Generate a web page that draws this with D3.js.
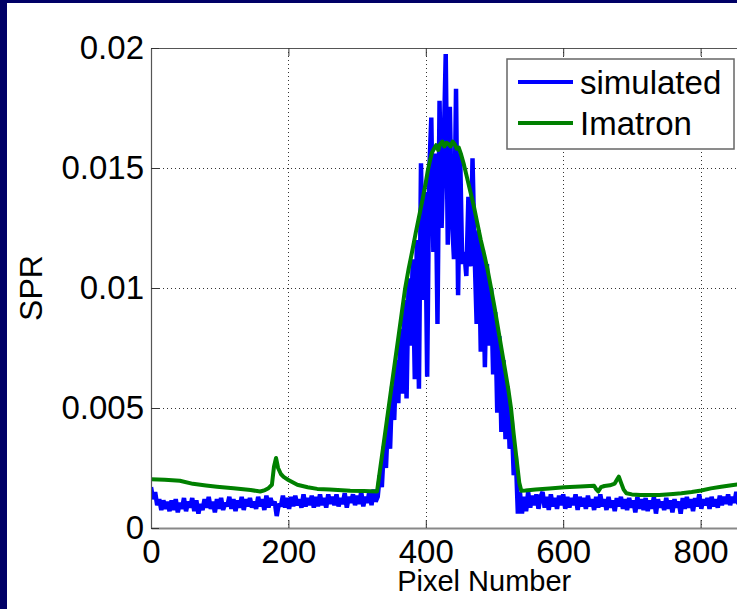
<!DOCTYPE html>
<html><head><meta charset="utf-8">
<script src="https://cdn.jsdelivr.net/npm/d3@7/dist/d3.min.js"></script>
<style>
body{margin:0;background:#fff}
svg{display:block}
text{font-family:"Liberation Sans",Arial,Helvetica,sans-serif;fill:#000}
</style>
</head><body>
<svg id="c" width="737" height="609"></svg>
<script>
// ---------------- data ----------------
const xTicks = [0, 200, 400, 600, 800];
const yTicks = [0, 0.005, 0.01, 0.015, 0.02];
const yTickLabels = ["0", "0.005", "0.01", "0.015", "0.02"];
const seriesNames = ["simulated", "Imatron"];
const xLabel = "Pixel Number";
const yLabel = "SPR";

// simulated SPR (x 1e-5), one value every 3 pixel numbers starting at 0
const simStep = 3;
const simulated = [
  170,120,150,95,120,75,115,80,110,70,
  115,75,120,65,105,80,125,70,110,85,
  125,70,115,60,100,75,120,85,130,80,
  110,65,120,80,125,75,105,90,130,80,
  120,70,115,85,130,75,120,90,125,85,
  110,80,130,90,120,75,135,85,125,95,
  110,50,100,90,135,85,125,80,130,90,
  135,95,120,85,140,90,125,95,135,85,
  130,90,140,95,125,85,140,100,130,95,
  140,90,125,100,145,85,130,105,140,95,
  135,100,150,90,130,105,155,95,160,110,
  130,220,170,340,250,460,330,590,450,700,
  520,830,560,950,540,1040,760,1120,620,1200,
  580,1520,950,1400,630,1480,1710,1150,1560,850,
  1780,1250,1580,1975,1180,1755,1300,1120,1830,970,
  1560,1100,1150,1050,1380,1090,1540,1150,850,1240,
  735,1160,670,1100,760,1000,640,900,480,800,
  400,700,370,590,330,460,220,300,60,150,
  60,130,70,150,85,135,95,140,80,130,
  150,85,130,75,140,90,125,80,135,95,
  140,80,130,85,125,95,140,75,130,90,
  125,80,135,90,120,75,130,85,140,90,
  120,75,130,85,115,70,125,90,130,80,
  120,75,125,85,115,65,130,80,120,75,
  125,70,115,80,130,60,120,85,110,75,
  125,80,115,65,120,85,110,60,125,80,
  130,85,120,70,125,90,140,80,120,95,
  125,80,130,90,120,85,135,95,130,100,
  140,95,130,105,150,100,140,150
];

// Imatron SPR (x 1e-5)
const imatronX = [0,20,42,61,80,96,120,145,159,166,171,176,179,182,185,189,193,200,213,228,242,260,290,310,329,
  333,337,341,345,350,355,360,365,370,375,380,385,390,395,400,403,406,409,412,415,418,421,424,427,430,433,436,439,442,445,448,
  451,455,460,465,470,475,480,485,490,495,500,505,510,515,520,524,528,532,536,539,
  545,560,580,602,625,645,648,651,655,660,668,675,679,681,684,688,692,700,712,724,740,760,772,787,801,815,830,845,856];
const imatronY = [203,201,197,184,177,172,166,158,152,158,166,180,255,292,250,225,213,200,180,170,163,160,155,154,152,
  235,318,400,483,587,690,793,897,1000,1080,1150,1225,1295,1365,1440,1490,1530,1565,1580,1595,1575,1600,1610,1590,1605,1600,1590,1610,1600,1580,1585,
  1560,1520,1460,1400,1340,1270,1200,1140,1075,1000,920,835,750,665,580,500,390,290,190,155,
  156,160,165,170,173,176,162,152,170,175,178,185,205,214,190,160,145,140,138,137,138,142,145,150,156,165,172,178,183];

// ---------------- drawing ----------------
const svg = d3.select("#c");
const scale = 1e-5;
const L = 151, T = 48, B = 528;
const xMax = 970;
const x = d3.scaleLinear().domain([0, xMax]).range([L, L + 0.687 * xMax]);
const R = x(xMax);
const y = d3.scaleLinear().domain([0, 0.02]).range([B, T]);

// frame
svg.append("rect").attr("width", 737).attr("height", 609).attr("fill", "#000066");
svg.append("rect").attr("x", 7).attr("y", 3).attr("width", 730).attr("height", 606).attr("fill", "#fff");

// grid
const grid = svg.append("g").attr("stroke", "#333").attr("stroke-width", 1).attr("stroke-dasharray", "1,3");
grid.selectAll("line.v").data(xTicks.filter(d => d > 0)).join("line")
  .attr("x1", d => Math.round(x(d)) + 0.5).attr("x2", d => Math.round(x(d)) + 0.5)
  .attr("y1", T).attr("y2", B);
grid.selectAll("line.h").data(yTicks.filter(d => d > 0 && d < 0.02)).join("line")
  .attr("y1", d => Math.round(y(d)) + 0.5).attr("y2", d => Math.round(y(d)) + 0.5)
  .attr("x1", L).attr("x2", R);

// data
svg.append("defs").append("clipPath").attr("id", "clip")
  .append("rect").attr("x", L).attr("y", T).attr("width", R - L).attr("height", B - T);
const line = d3.line().x(d => x(d[0])).y(d => y(d[1]));
const simData = simulated.map((v, i) => [i * simStep, v * scale]);
const imaData = imatronX.map((v, i) => [v, imatronY[i] * scale]);
const dg = svg.append("g").attr("clip-path", "url(#clip)");
dg.append("path").datum(simData).attr("d", line).attr("fill", "none")
  .attr("stroke", "#0000ff").attr("stroke-width", 4.5).attr("stroke-linejoin", "miter").attr("stroke-miterlimit", 2);
dg.append("path").datum(imaData).attr("d", line).attr("fill", "none")
  .attr("stroke", "#008000").attr("stroke-width", 4).attr("stroke-linejoin", "round");

// axes
const fs = 33;
const gx = svg.append("g").attr("transform", `translate(0,${B})`)
  .call(d3.axisBottom(x).tickValues(xTicks).tickFormat(d3.format("d")).tickSizeInner(-8).tickSizeOuter(0).tickPadding(12));
const gxt = svg.append("g").attr("transform", `translate(0,${T})`)
  .call(d3.axisTop(x).tickValues(xTicks).tickFormat("").tickSizeInner(-8).tickSizeOuter(0));
const gy = svg.append("g").attr("transform", `translate(${L},0)`)
  .call(d3.axisLeft(y).tickValues(yTicks).tickFormat((d, i) => yTickLabels[i]).tickSizeInner(-8).tickSizeOuter(0).tickPadding(7));
[gx, gxt, gy].forEach(g => {
  g.selectAll("text").attr("font-size", fs).attr("font-family", '"Liberation Sans",Arial,sans-serif').attr("fill", "#000");
  g.selectAll(".tick line").attr("stroke", "#333");
  g.select(".domain").attr("stroke", "#555").attr("stroke-width", 1.2);
});
gx.select(".domain").attr("stroke", "#888").attr("stroke-width", 2);

// axis labels
svg.append("text").attr("x", (L + R) / 2).attr("y", 591).attr("text-anchor", "middle")
  .attr("font-size", 29).text(xLabel);
svg.append("text").attr("transform", `translate(42,${(T + B) / 2}) rotate(-90)`).attr("text-anchor", "middle")
  .attr("font-size", 32).text(yLabel);

// legend
const lg = svg.append("g");
lg.append("rect").attr("x", 507).attr("y", 59).attr("width", 227).attr("height", 90)
  .attr("fill", "#fff").attr("stroke", "#666").attr("stroke-width", 1.5);
const colors = ["#0000ff", "#008000"];
seriesNames.forEach((n, i) => {
  const yy = 82 + i * 41;
  lg.append("line").attr("x1", 518).attr("x2", 573).attr("y1", yy).attr("y2", yy)
    .attr("stroke", colors[i]).attr("stroke-width", 4);
  lg.append("text").attr("x", 580).attr("y", yy + 12).attr("font-size", 33).text(n);
});
</script>
</body></html>
